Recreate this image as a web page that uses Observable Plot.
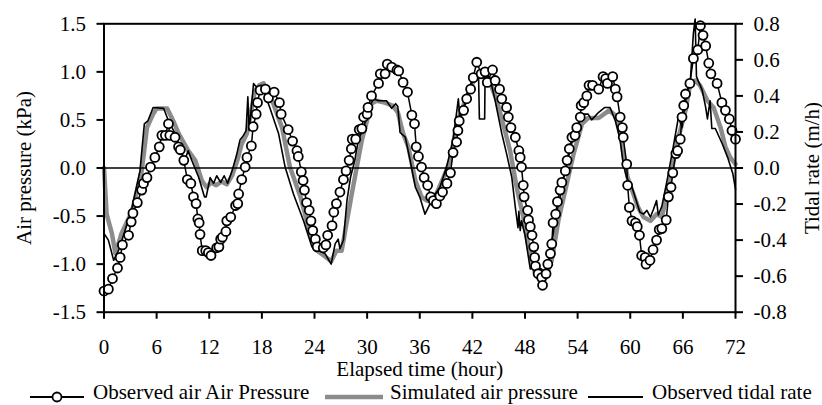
<!DOCTYPE html>
<html><head><meta charset="utf-8">
<script src="https://cdn.jsdelivr.net/npm/d3@7"></script>
<script src="https://cdn.jsdelivr.net/npm/@observablehq/plot@0.6"></script>
<style>
body{margin:0;background:#fff;}
#wrap{position:relative;width:822px;height:405px;overflow:hidden;font-family:"Liberation Serif","Times New Roman",serif;}
#chart{position:absolute;left:0;top:0;}
.item{position:absolute;top:382px;display:flex;align-items:center;font-size:21px;line-height:21px;white-space:nowrap;color:#000;}
.item svg{position:relative;top:4px;overflow:visible;}
</style></head>
<body><div id="wrap"><div id="chart"></div>
<div class="item" style="left:30px;gap:9px"><svg width="54" height="12"><line x1="0" x2="54" y1="6" y2="6" stroke="black" stroke-width="1.8"/><circle cx="27" cy="6" r="4.5" fill="white" stroke="black" stroke-width="1.8"/></svg><span>Observed air Air Pressure</span></div>
<div class="item" style="left:325px;gap:7px"><svg width="58" height="12"><line x1="0" x2="58" y1="6" y2="6" stroke="#8c8c8c" stroke-width="4.5"/></svg><span>Simulated air pressure</span></div>
<div class="item" style="left:588px;gap:9px"><svg width="55" height="12"><line x1="0" x2="55" y1="6" y2="6" stroke="black" stroke-width="1.8"/></svg><span>Observed tidal rate</span></div>
</div>
<script>
// Observed air pressure (kPa)
const obsTime = [0,0.5,0.97,1.54,1.84,2.1,2.8,3.1,3.3,3.8,4.3,4.5,4.9,5.3,5.8,6.3,6.6,7.0,7.35,7.5,8.1,8.5,8.7,9.1,9.5,9.9,10.2,10.5,10.7,10.85,10.95,11.2,11.6,11.9,12.2,12.85,13.1,13.3,13.5,13.9,14.0,14.45,15.0,15.25,15.35,15.7,16.1,16.3,16.8,17.0,17.35,17.5,17.8,18.4,18.75,19.4,20.0,20.2,21.0,21.5,22.0,22.15,22.5,22.7,22.85,23.1,23.4,23.6,23.8,24.1,24.3,25.0,25.3,25.5,26.0,26.2,26.5,26.9,27.3,27.6,27.95,28.2,28.3,28.7,29.1,29.4,29.6,30.0,30.1,30.5,31.3,31.5,32.05,32.3,32.8,33.4,33.6,34.1,34.6,35.1,35.4,35.6,35.85,36.2,36.5,36.9,37.25,37.55,37.9,38.3,38.6,39.1,39.5,39.8,40.2,40.35,40.5,41.0,41.35,41.8,42.1,42.5,43.0,43.45,43.7,44.3,44.6,45.1,45.35,45.9,46.1,46.4,46.9,47.3,47.45,47.6,47.8,47.9,48.3,48.4,48.6,48.8,49.0,49.1,49.2,49.5,49.9,50.0,50.4,50.6,50.9,51.05,51.2,51.5,51.7,52.0,52.2,52.6,52.8,53.05,53.35,53.7,53.9,54.3,54.4,54.7,55.05,55.3,55.7,56.4,56.9,57.2,57.4,58.0,58.3,58.5,58.85,59.1,59.2,59.6,59.7,59.9,60.2,60.6,60.8,61.05,61.3,61.7,61.8,62.25,62.6,63.0,63.3,63.6,64.1,64.35,64.65,64.85,65.2,65.4,65.7,65.9,66.1,66.3,66.8,67.2,67.7,68.0,68.3,68.6,68.95,69.2,69.9,70.45,70.85,71.3,71.6,72.0];
const obsPressure = [-1.28,-1.26,-1.15,-1.04,-0.93,-0.80,-0.70,-0.56,-0.47,-0.36,-0.23,-0.16,-0.10,0.01,0.11,0.22,0.34,0.34,0.46,0.34,0.32,0.22,0.19,0.08,-0.12,-0.16,-0.30,-0.37,-0.53,-0.57,-0.69,-0.86,-0.86,-0.88,-0.91,-0.83,-0.82,-0.74,-0.72,-0.66,-0.55,-0.51,-0.39,-0.37,-0.27,-0.12,0.01,0.11,0.23,0.43,0.56,0.68,0.81,0.82,0.73,0.79,0.68,0.56,0.40,0.28,0.18,0.12,-0.04,-0.13,-0.23,-0.36,-0.44,-0.55,-0.65,-0.74,-0.82,-0.83,-0.80,-0.70,-0.60,-0.46,-0.37,-0.25,-0.12,-0.03,0.08,0.20,0.30,0.30,0.40,0.41,0.53,0.56,0.63,0.75,0.88,0.98,0.98,1.08,1.05,1.02,1.01,0.89,0.79,0.55,0.46,0.22,0.12,0.01,-0.10,-0.18,-0.30,-0.34,-0.37,-0.29,-0.25,-0.16,-0.05,0.16,0.27,0.39,0.49,0.60,0.72,0.82,0.94,1.10,0.98,1.00,0.89,1.02,0.91,0.82,0.72,0.63,0.53,0.42,0.32,0.18,0.11,0.01,-0.18,-0.30,-0.44,-0.54,-0.61,-0.70,-0.82,-0.93,-1.02,-1.10,-1.14,-1.22,-1.10,-1.00,-0.89,-0.79,-0.57,-0.48,-0.35,-0.23,-0.15,-0.03,0.08,0.20,0.32,0.34,0.42,0.53,0.65,0.68,0.75,0.86,0.86,0.82,0.95,0.93,0.88,0.95,0.82,0.74,0.53,0.42,0.32,0.04,-0.18,-0.41,-0.55,-0.57,-0.61,-0.70,-0.91,-0.93,-1.00,-0.96,-0.85,-0.75,-0.64,-0.63,-0.54,-0.30,-0.20,-0.05,0.15,0.18,0.30,0.53,0.65,0.77,0.88,1.14,1.23,1.48,1.38,1.27,1.09,0.98,0.88,0.68,0.60,0.51,0.39,0.30];

// Simulated air pressure (kPa)
const simTime = [0,0.3,0.9,1.3,2.0,3.2,4.3,4.9,5.6,6.0,7.2,7.9,8.5,9.6,10.4,11.15,11.7,12.2,12.8,13.4,14.0,14.6,15.2,15.7,16.3,16.7,17.2,17.7,18.2,19.3,20.3,21.2,22.4,23.5,24.3,25.2,25.9,26.5,27.1,28.25,29.4,30.5,31.1,32.0,32.9,33.5,34.1,34.7,35.5,36.2,36.8,37.55,38.7,39.5,40.2,41.35,42.3,43.0,43.8,44.8,45.5,46.3,47.05,47.8,48.4,49.15,50.3,51.05,51.8,52.6,53.55,54.5,55.2,56.4,57.6,58.5,59.0,59.3,59.7,60.9,61.5,62.3,63.0,63.6,64.4,65.3,66.3,66.85,67.4,67.95,68.8,69.5,70.3,70.85,71.4,72.0];
const simPressure = [0.0,-0.48,-0.68,-0.89,-0.68,-0.45,-0.03,0.42,0.56,0.62,0.62,0.49,0.36,0.18,0.08,-0.13,-0.20,-0.15,-0.18,-0.14,-0.17,-0.08,0.08,0.25,0.36,0.55,0.80,0.86,0.88,0.67,0.42,0.01,-0.30,-0.68,-0.86,-0.92,-0.97,-0.86,-0.86,-0.27,0.29,0.67,0.70,0.68,0.65,0.58,0.36,0.22,-0.13,-0.30,-0.34,-0.34,-0.10,0.08,0.46,0.74,0.94,0.96,0.94,0.70,0.46,0.18,-0.20,-0.51,-0.82,-1.10,-1.15,-0.96,-0.55,-0.23,0.15,0.46,0.52,0.52,0.60,0.53,0.29,0.10,-0.10,-0.41,-0.51,-0.55,-0.48,-0.51,-0.20,0.25,0.60,0.88,0.91,0.86,0.70,0.63,0.42,0.22,0.11,0.04];

// Observed tidal rate (m/h), right axis
const tideTime = [0,0.5,1.1,1.65,2.4,3.2,4.1,4.6,5.0,5.6,6.8,7.35,8.1,8.7,9.2,9.6,10.0,10.8,11.45,11.65,12.1,12.5,12.85,13.3,13.7,14.1,14.6,15.1,15.5,15.9,16.2,16.4,16.55,17.05,17.4,17.95,18.9,19.9,20.65,21.6,22.75,23.7,24.5,25.2,25.9,26.35,26.7,26.9,27.3,27.7,28.1,28.6,29.0,29.6,30.15,30.7,31.3,32.2,32.8,33.25,33.5,33.75,34.35,34.9,35.5,36.0,36.6,37.55,38.3,39.05,39.8,40.4,40.6,41.0,41.5,42.1,42.7,42.8,43.4,43.45,44.0,44.6,45.35,45.9,46.5,46.9,47.2,47.3,47.45,47.6,48.0,48.6,49.15,49.9,50.3,50.85,51.4,52.0,52.6,53.3,54.1,54.7,55.2,55.6,56.4,57.1,57.7,58.3,58.85,59.2,59.6,60.2,61.1,61.5,61.9,62.3,62.65,63.0,63.2,63.6,64.2,64.9,65.5,65.9,66.3,66.85,67.2,67.4,67.55,68.2,68.6,68.8,69.1,69.3,69.7,70.5,71.1,71.7,72.0];
const tideRate = [-0.363,-0.400,-0.512,-0.459,-0.347,-0.219,-0.016,0.245,0.261,0.336,0.331,0.261,0.192,0.107,0.043,0.096,0.043,-0.053,-0.160,-0.160,-0.053,-0.085,-0.043,-0.080,-0.043,-0.085,-0.016,0.069,0.155,0.181,0.208,0.395,0.208,0.469,0.448,0.459,0.336,0.192,0.005,-0.144,-0.293,-0.437,-0.459,-0.475,-0.533,-0.421,-0.395,-0.448,-0.400,-0.181,-0.053,0.043,0.155,0.224,0.320,0.384,0.373,0.373,0.331,0.357,0.341,0.197,0.171,0.043,-0.107,-0.160,-0.256,-0.160,-0.107,0.005,0.155,0.384,0.261,0.336,0.432,0.501,0.523,0.272,0.272,0.523,0.501,0.373,0.192,0.080,-0.053,-0.219,-0.331,-0.240,-0.347,-0.293,-0.373,-0.560,-0.549,-0.560,-0.608,-0.475,-0.309,-0.160,-0.016,0.133,0.245,0.299,0.299,0.267,0.309,0.336,0.336,0.261,0.155,0.021,-0.053,-0.107,-0.245,-0.256,-0.235,-0.272,-0.229,-0.181,-0.261,-0.213,-0.069,0.117,0.283,0.224,0.373,0.485,0.747,0.827,0.507,0.432,0.336,0.272,0.373,0.219,0.219,0.133,0.059,-0.032,-0.117];

// Tick labels
const xTicks = [0,6,12,18,24,30,36,42,48,54,60,66,72];
const yTicks = [-1.5,-1.0,-0.5,0.0,0.5,1.0,1.5];
const tideTicks = [-0.8,-0.6,-0.4,-0.2,0.0,0.2,0.4,0.6,0.8];

const k = 1.5 / 0.8; // right axis (m/h) -> left axis (kPa)
const obs = obsTime.map((t, i) => ({t, v: obsPressure[i]}));
const sim = simTime.map((t, i) => ({t, v: simPressure[i]}));
const tide = tideTime.map((t, i) => ({t, v: tideRate[i] * k}));

const chart = Plot.plot({
  width: 822, height: 385,
  marginLeft: 103.5, marginRight: 87, marginTop: 23.3, marginBottom: 73.3,
  style: {fontFamily: "'Liberation Serif', 'Times New Roman', serif", fontSize: "21px", color: "black", background: "white"},
  x: {domain: [0, 72]},
  y: {domain: [-1.5, 1.5]},
  marks: [
    Plot.lineY(sim, {x: "t", y: "v", stroke: "#8c8c8c", strokeWidth: 4.5}),
    Plot.ruleY([0], {stroke: "black", strokeWidth: 1.6}),
    Plot.lineY(tide, {x: "t", y: "v", stroke: "black", strokeWidth: 1.6}),
    Plot.lineY(obs, {x: "t", y: "v", stroke: "black", strokeWidth: 1.5}),
    Plot.dot(obs, {x: "t", y: "v", r: 4.5, fill: "white", stroke: "black", strokeWidth: 1.8}),
    Plot.frame({stroke: "black", strokeWidth: 2}),
    Plot.axisX({ticks: xTicks, tickSize: 7, tickPadding: 20, strokeWidth: 2, tickFormat: d => String(d),
      label: "Elapsed time (hour)", labelAnchor: "center", labelOffset: 64, labelArrow: "none"}),
    Plot.axisY({anchor: "left", ticks: yTicks, tickSize: 7, tickPadding: 11, strokeWidth: 2, tickFormat: d => d.toFixed(1),
      label: "Air pressure (kPa)", labelAnchor: "center", labelOffset: 88, labelArrow: "none"}),
    Plot.axisY({anchor: "right", ticks: tideTicks.map(d => d * k), tickSize: 7, tickPadding: 11, strokeWidth: 2,
      tickFormat: d => (d / k).toFixed(1),
      label: "Tidal rate (m/h)", labelAnchor: "center", labelOffset: 83, labelArrow: "none"})
  ]
});
document.getElementById("chart").appendChild(chart);
</script>
</body></html>
